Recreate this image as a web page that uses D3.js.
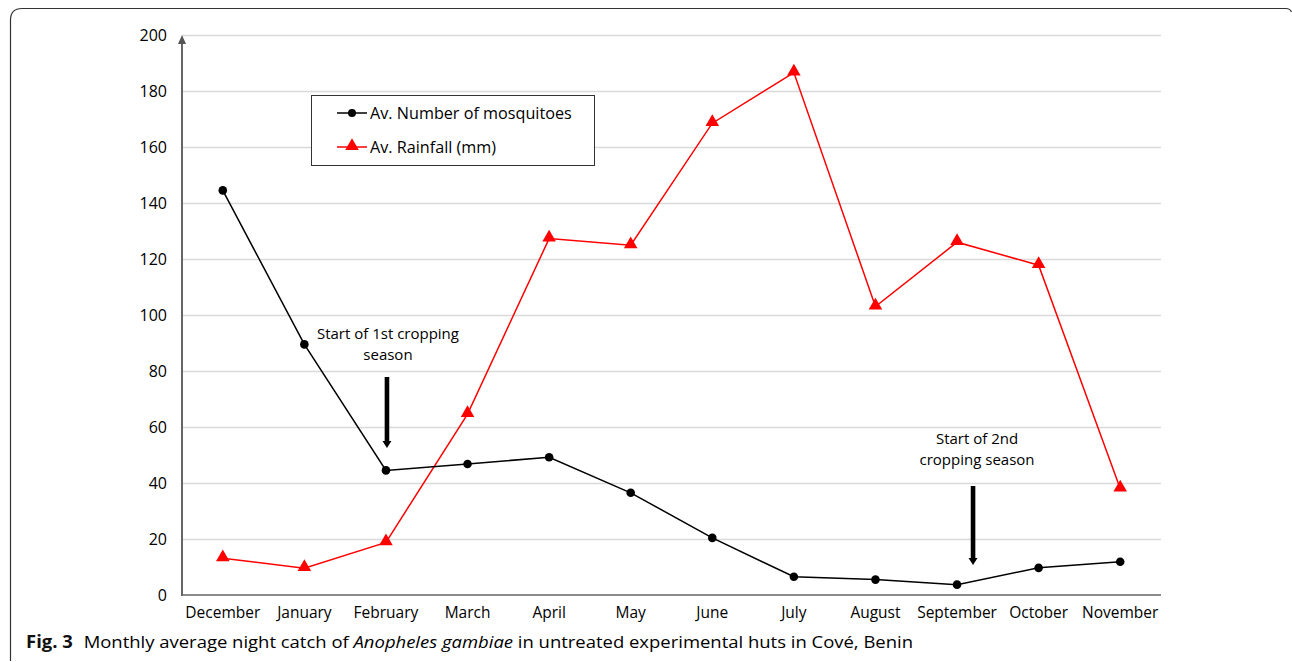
<!DOCTYPE html>
<html>
<head>
<meta charset="utf-8">
<script src="https://cdn.jsdelivr.net/npm/d3@7"></script>
<style>
  body { margin: 0; background: #fff; }
  svg { display: block; }
  text { font-family: "Open Sans", "DejaVu Sans", sans-serif; fill: #000; }
</style>
</head>
<body>
<div id="chart"></div>
<script>
// months on the x axis
var months = ["December", "January", "February", "March", "April", "May",
  "June", "July", "August", "September", "October", "November"];

// average number of mosquitoes per night
var mosquitoes = [144.5, 89.5, 44.5, 46.8, 49.2, 36.5, 20.4, 6.5, 5.5, 3.7, 9.7, 11.9];

// average rainfall (mm)
var rainfall = [13.1, 9.6, 18.8, 64.6, 127.3, 124.9, 168.5, 186.6, 103.0, 126.0, 117.8, 38.0];

var yTicks = [0, 20, 40, 60, 80, 100, 120, 140, 160, 180, 200];

var seriesNames = ["Av. Number of mosquitoes", "Av. Rainfall (mm)"];

// annotations: month, label lines
var notes = [
  {month: "February", lines: ["Start of 1st cropping", "season"], dx: 1, tx: 2, textY: 339, top: 377, bottom: 448},
  {month: "September", lines: ["Start of 2nd", "cropping season"], dx: 16, tx: 20, textY: 444, top: 486, bottom: 565}
];

var W = 1292, H = 662;
var margin = {left: 182, right: 131, top: 35, bottom: 67};

var svg = d3.select("#chart").append("svg")
  .attr("width", W)
  .attr("height", H);

//outer frame with rounded top left corner
svg.append("path")
  .attr("d", "M10.5,661 L10.5,20 Q10.5,8.5 22,8.5 L1286,8.5 Q1290,8.5 1291.5,12")
  .attr("fill", "none")
  .attr("stroke", "#333")
  .attr("stroke-width", 1.2);

var x = d3.scaleBand()
  .domain(months)
  .range([margin.left, W - margin.right]);

var y = d3.scaleLinear()
  .domain([0, 200])
  .range([H - margin.bottom, margin.top]);

//gridlines
svg.append("g")
  .selectAll("line")
  .data(yTicks.filter(function(d){ return d > 0; }))
  .enter().append("line")
  .attr("x1", margin.left)
  .attr("x2", W - margin.right)
  .attr("y1", function(d){ return Math.round(y(d)) + 0.5; })
  .attr("y2", function(d){ return Math.round(y(d)) + 0.5; })
  .attr("stroke", "#d9d9d9")
  .attr("stroke-width", 1.3);

//y axis labels
var yAxis = d3.axisLeft(y)
  .tickValues(yTicks)
  .tickSize(0)
  .tickPadding(15);

var gy = svg.append("g")
  .attr("transform", "translate(" + margin.left + ",0)")
  .call(yAxis);
gy.select(".domain").remove();
gy.selectAll("text")
  .attr("font-size", 16)
  .attr("font-family", "Open Sans")
  .attr("fill", "#000");

//x axis labels
var xAxis = d3.axisBottom(x).tickSize(0).tickPadding(8);
var gx = svg.append("g")
  .attr("transform", "translate(0," + y(0) + ")")
  .call(xAxis);
gx.select(".domain").remove();
gx.selectAll("text")
  .attr("font-size", 15.5)
  .attr("font-family", "Open Sans")
  .attr("fill", "#000")
  .attr("dy", "0.95em");

//axis lines
svg.append("line")
  .attr("x1", margin.left)
  .attr("x2", W - margin.right)
  .attr("y1", y(0))
  .attr("y2", y(0))
  .attr("stroke", "#8c8c8c")
  .attr("stroke-width", 2);

svg.append("line")
  .attr("x1", margin.left)
  .attr("x2", margin.left)
  .attr("y1", y(0) + 1)
  .attr("y2", y(200) + 6)
  .attr("stroke", "#666")
  .attr("stroke-width", 2);

svg.append("path")
  .attr("d", "M" + margin.left + "," + (y(200)) + " l-4,9 l8,0 z")
  .attr("fill", "#555");

var cx = function(d, i){ return x(months[i]) + x.bandwidth() / 2; };

var line = d3.line()
  .x(cx)
  .y(function(d){ return y(d); });

//rainfall series
svg.append("path")
  .datum(rainfall)
  .attr("d", line)
  .attr("fill", "none")
  .attr("stroke", "#ff0000")
  .attr("stroke-width", 1.5);

//mosquito series
svg.append("path")
  .datum(mosquitoes)
  .attr("d", line)
  .attr("fill", "none")
  .attr("stroke", "#000")
  .attr("stroke-width", 1.5);

var tri = d3.symbol().type(d3.symbolTriangle).size(80);

svg.append("g")
  .selectAll("path")
  .data(rainfall)
  .enter().append("path")
  .attr("d", tri)
  .attr("transform", function(d, i){ return "translate(" + cx(d, i) + "," + (y(d) - 1) + ")"; })
  .attr("fill", "#ff0000");

svg.append("g")
  .selectAll("circle")
  .data(mosquitoes)
  .enter().append("circle")
  .attr("cx", cx)
  .attr("cy", function(d){ return y(d); })
  .attr("r", 4.3)
  .attr("fill", "#000");

//legend
var legend = svg.append("g").attr("transform", "translate(311,95)");
legend.append("rect")
  .attr("x", 0.5).attr("y", 0.5)
  .attr("width", 283).attr("height", 70)
  .attr("fill", "#fff")
  .attr("stroke", "#333")
  .attr("stroke-width", 1);

seriesNames.forEach(function(name, i){
  var ly = i == 0 ? 18 : 52;
  var col = i == 0 ? "#000" : "#ff0000";
  legend.append("line")
    .attr("x1", 26).attr("x2", 56)
    .attr("y1", ly).attr("y2", ly)
    .attr("stroke", col).attr("stroke-width", 1.5);
  if (i == 0) {
    legend.append("circle").attr("cx", 41).attr("cy", ly).attr("r", 4).attr("fill", col);
  } else {
    legend.append("path").attr("d", tri).attr("transform", "translate(41," + (ly - 1) + ")").attr("fill", col);
  }
  legend.append("text")
    .attr("x", 59)
    .attr("y", ly + 6)
    .attr("font-size", 16.2)
    .text(name);
});

//cropping season annotations
notes.forEach(function(n){
  var ax = x(n.month) + x.bandwidth() / 2 + n.dx;
  var g = svg.append("g");
  n.lines.forEach(function(t, j){
    g.append("text")
      .attr("x", x(n.month) + x.bandwidth() / 2 + n.tx)
      .attr("y", n.textY + j * 21)
      .attr("text-anchor", "middle")
      .attr("font-size", 15)
      .text(t);
  });
  g.append("rect")
    .attr("x", ax - 2.3)
    .attr("y", n.top)
    .attr("width", 4.6)
    .attr("height", n.bottom - n.top - 5);
  g.append("path")
    .attr("d", "M" + (ax - 4.5) + "," + (n.bottom - 7) + " L" + (ax + 4.5) + "," + (n.bottom - 7) + " L" + ax + "," + n.bottom + " Z")
    .attr("fill", "#000");
});

//caption
var cap = svg.append("text")
  .attr("x", 26)
  .attr("y", 648)
  .attr("font-size", 17)
  .attr("font-family", "Open Sans")
  .attr("fill", "#222");
cap.append("tspan").attr("font-weight", "bold").attr("fill", "#111").text("Fig. 3");
cap.append("tspan").attr("dx", 10).text("Monthly average night catch of ");
cap.append("tspan").attr("font-style", "italic").text("Anopheles gambiae");
cap.append("tspan").text(" in untreated experimental huts in Cové, Benin");

//squeeze caption to the width of the original
cap.attr("textLength", 913 - 26).attr("lengthAdjust", "spacingAndGlyphs");
</script>
</body>
</html>
